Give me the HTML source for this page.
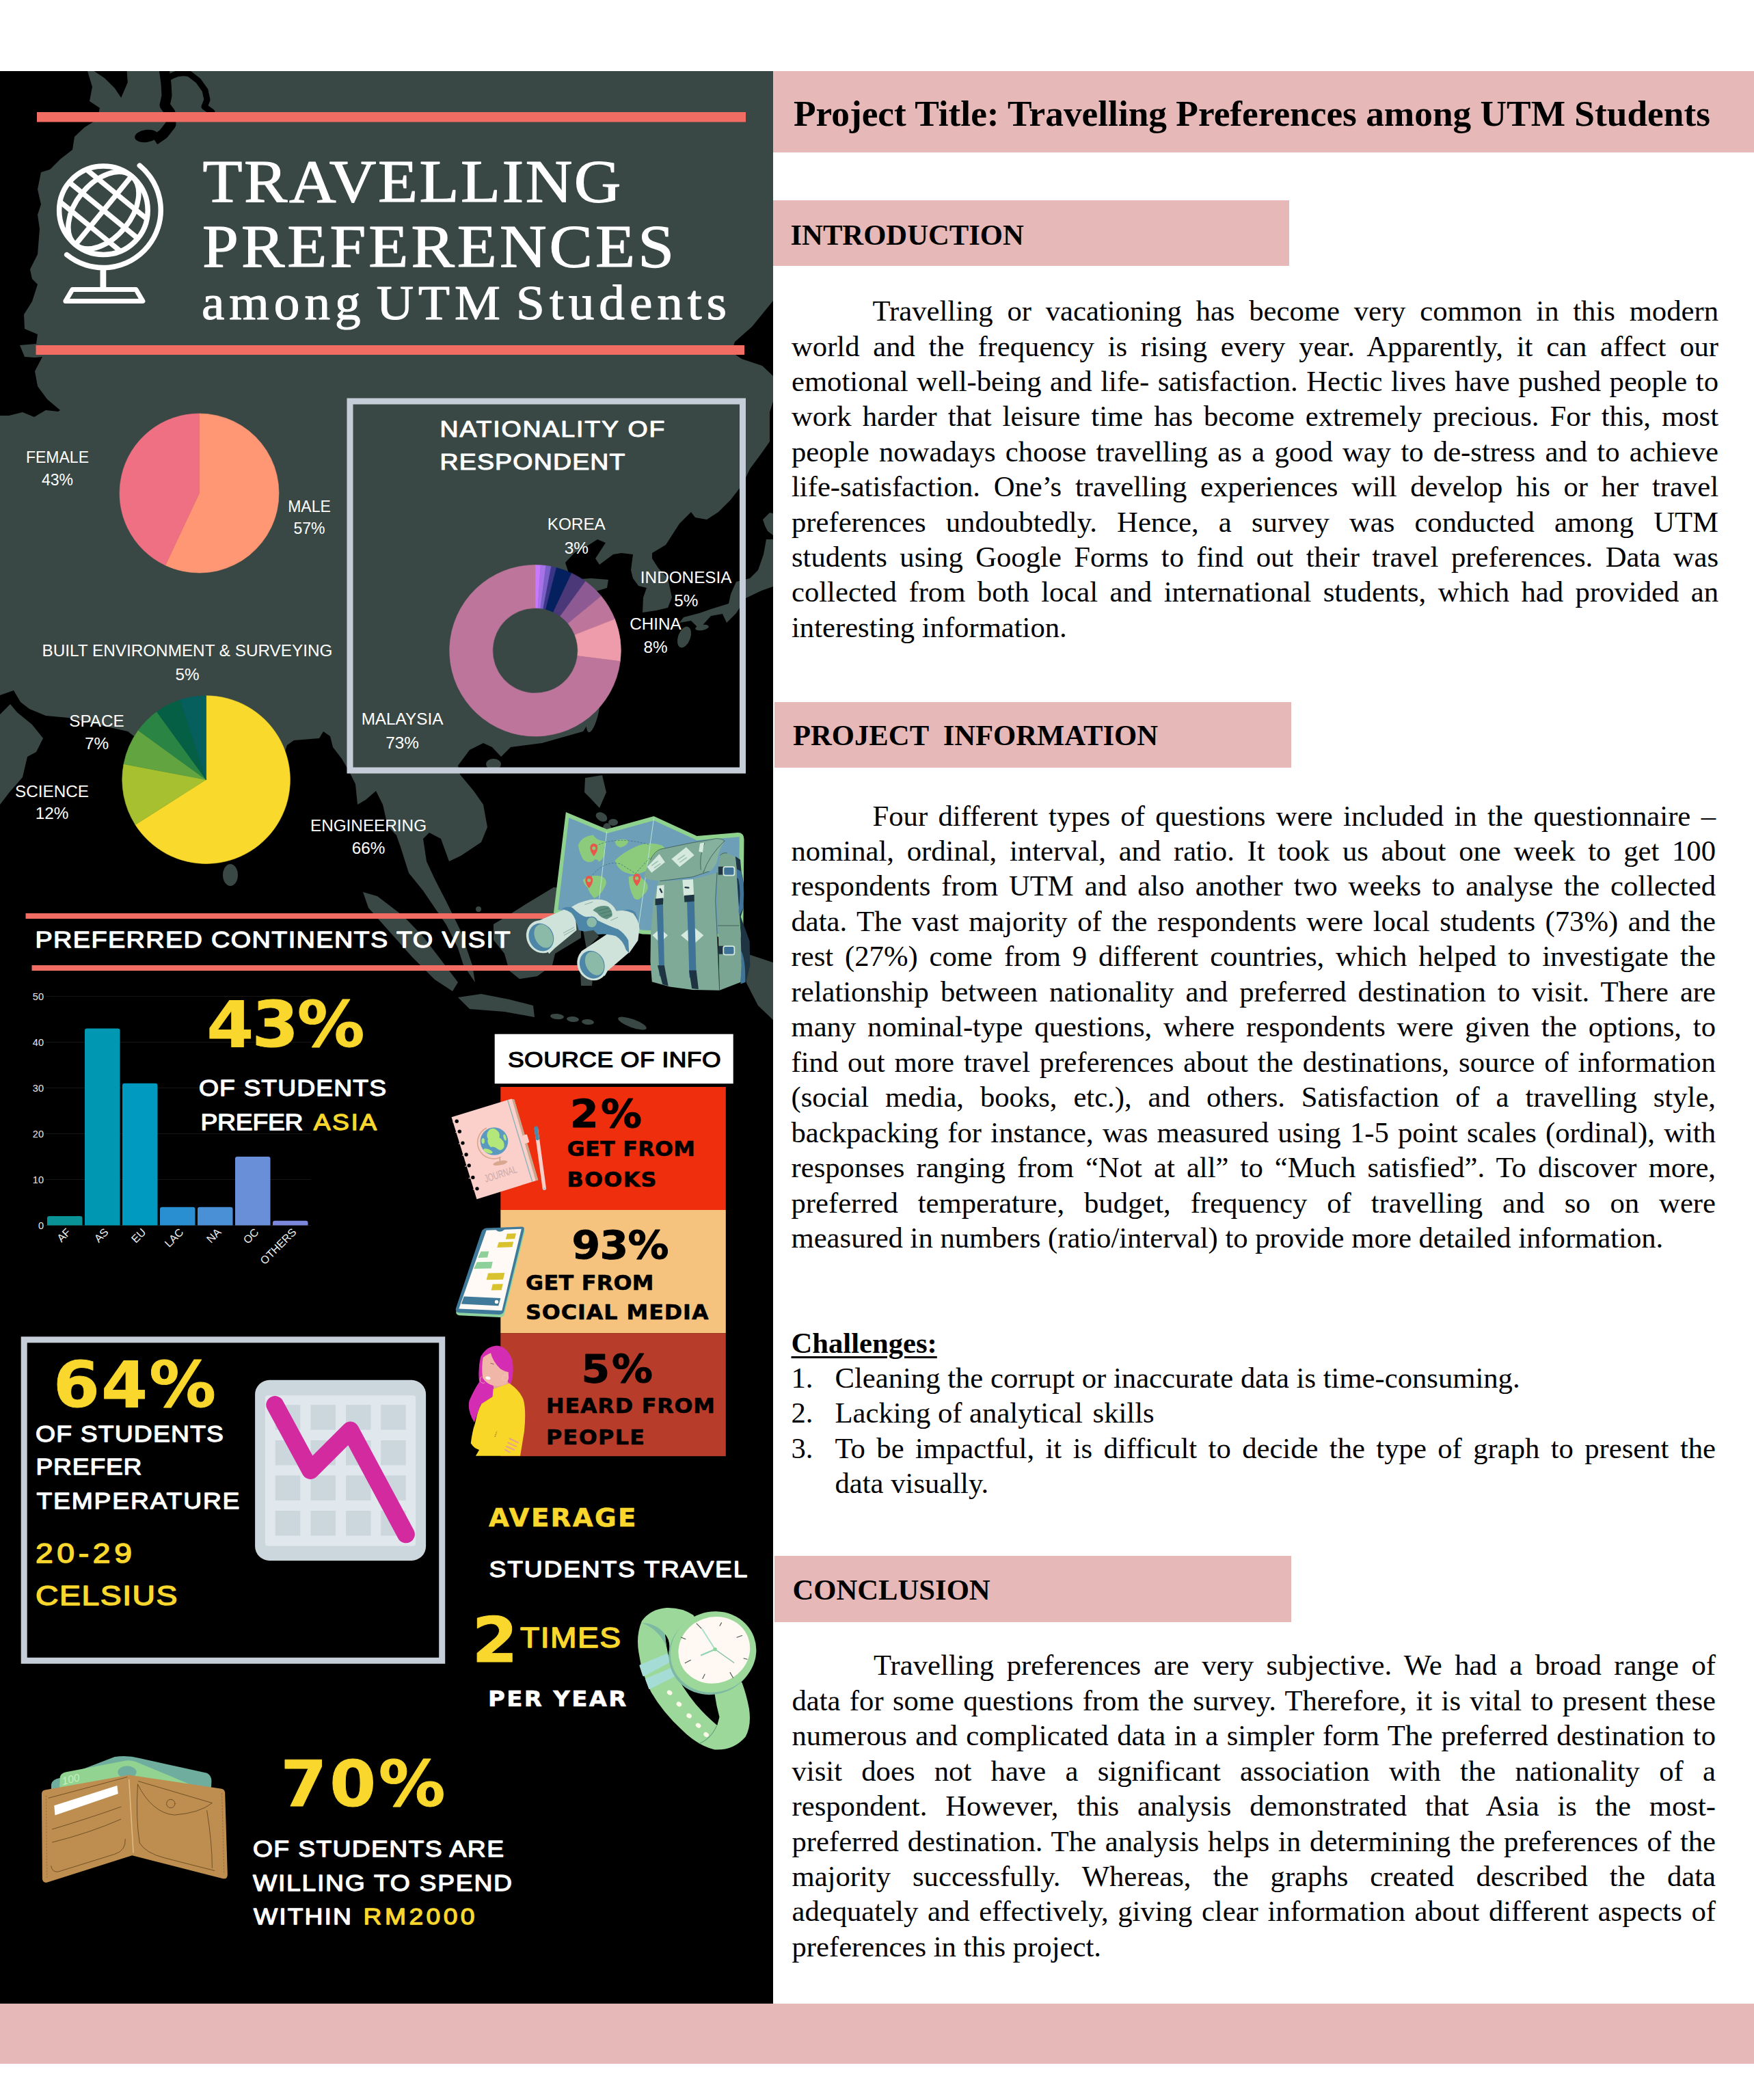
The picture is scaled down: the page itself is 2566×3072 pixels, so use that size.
<!DOCTYPE html>
<html lang="en"><head><meta charset="utf-8"><title>Travelling Preferences among UTM Students</title>
<style>
html,body{margin:0;padding:0;background:#fff}
body{width:2566px;height:3072px;position:relative;overflow:hidden;font-family:"Liberation Serif",serif;color:#000}
svg text{white-space:pre}
</style></head><body>
<svg width="1131" height="2827" viewBox="0 104 1131 2827" style="position:absolute;left:0;top:104px;display:block">
<rect x="0" y="104" width="1131" height="2827" fill="#000"/>
<polygon points="128,104 1131,104 1131,440 1100,478 1075,500 1070,515 1085,525 1115,535 1131,550 1131,587 1126,603 1126,646 1114,663 1097,686 1086,709 1069,731 1051,749 1034,760 1017,757 1011,749 994,766 983,783 974,797 954,809 954,817 963,831 977,846 980,860 983,874 977,889 960,893 940,896 941,874 946,860 934,857 926,846 923,834 926,811 909,809 897,811 877,826 871,817 886,794 874,789 857,800 840,809 827,823 835,848 865,846 890,848 888,860 862,868 852,882 870,930 885,960 890,1000 873,1040 853,1070 793,1087 747,1093 733,1107 720,1093 707,1087 687,1097 670,1120 673,1133 693,1157 707,1177 713,1210 704,1232 674,1252 657,1260 645,1227 628,1218 619,1227 624,1260 636,1286 653,1319 674,1362 691,1412 695,1437 678,1412 670,1387 653,1353 636,1328 619,1303 598,1277 586,1239 580,1222 567,1208 560,1177 550,1157 535,1170 523,1177 520,1147 510,1127 500,1110 487,1093 483,1077 473,1070 467,1080 430,1083 420,1090 400,1150 360,1230 320,1262 280,1200 240,1130 210,1090 200,1080 187,1070 100,1050 67,1047 43,1037 30,1027 20,1010 0,1017 0,608 13,608 33,603 50,610 67,600 85,602 88,600 69,584 55,565 51,543 62,522 51,523 36,522 29,505 53,503 55,489 36,481 35,460 47,441 55,416 47,408 44,394 55,372 58,335 55,314 60,299 55,277 60,252 73,248 88,233 106,219 109,200 124,186 142,175 146,158 131,148 135,127" fill="#3a4845" />
<polygon points="0,1045 15,1030 25,1042 47,1060 63,1080 53,1100 40,1107 33,1137 13,1160 0,1177" fill="#3a4845" />
<polygon points="1131,789 1121,789 1117,811 1109,834 1097,846 1077,851 1069,869 1066,883 1040,891 1023,897 1000,903 994,911 1011,908 1023,920 1040,901 1057,898 1063,911 1077,897 1091,875 1114,864 1131,858" fill="#3a4845" />
<polygon points="1116,760 1126,750 1131,751 1131,783 1123,777 1119,769" fill="#3a4845" />
<polygon points="856,1138 881,1134 887,1159 877,1182 864,1168 855,1159" fill="#3a4845" />
<polygon points="531,1305 552,1311 590,1340 619,1370 645,1404 670,1437 662,1450 636,1433 603,1400 569,1362 539,1328" fill="#3a4845" />
<polygon points="722,1352 745,1338 767,1324 810,1298 832,1300 850,1340 850,1372 812,1395 808,1412 786,1428 760,1432 745,1420 738,1395 722,1375" fill="#3a4845" />
<polygon points="670,1459 704,1454 745,1462 780,1471 782,1488 738,1480 687,1476" fill="#3a4845" />
<polygon points="1092,1395 1131,1408 1131,1492 1109,1471 1092,1438" fill="#3a4845" />
<polygon points="950,1330 975,1325 985,1345 970,1365 985,1395 970,1400 955,1375 945,1350" fill="#3a4845" />
<polygon points="853,1361 868,1357 876,1370 858,1388" fill="#3a4845" />
<polygon points="849,1419 868,1421 866,1442 850,1442" fill="#3a4845" />
<ellipse cx="337" cy="1280" rx="11" ry="16" fill="#3a4845" transform="rotate(0 337 1280)"/>
<ellipse cx="868" cy="1040" rx="8" ry="32" fill="#3a4845" transform="rotate(12 868 1040)"/>
<ellipse cx="722" cy="1118" rx="11" ry="8" fill="#3a4845" transform="rotate(0 722 1118)"/>
<ellipse cx="1001" cy="932" rx="9" ry="16" fill="#3a4845" transform="rotate(20 1001 932)"/>
<ellipse cx="1027" cy="918" rx="10" ry="4" fill="#3a4845" transform="rotate(-10 1027 918)"/>
<ellipse cx="880" cy="1195" rx="9" ry="6" fill="#3a4845" transform="rotate(30 880 1195)"/>
<ellipse cx="897" cy="1203" rx="7" ry="5" fill="#3a4845" transform="rotate(0 897 1203)"/>
<ellipse cx="888" cy="1212" rx="6" ry="8" fill="#3a4845" transform="rotate(0 888 1212)"/>
<ellipse cx="905" cy="1235" rx="14" ry="12" fill="#3a4845" transform="rotate(0 905 1235)"/>
<ellipse cx="815" cy="1487" rx="10" ry="4" fill="#3a4845" transform="rotate(5 815 1487)"/>
<ellipse cx="838" cy="1491" rx="9" ry="4" fill="#3a4845" transform="rotate(5 838 1491)"/>
<ellipse cx="860" cy="1495" rx="9" ry="4" fill="#3a4845" transform="rotate(5 860 1495)"/>
<ellipse cx="925" cy="1497" rx="22" ry="6" fill="#3a4845" transform="rotate(20 925 1497)"/>
<ellipse cx="700" cy="1330" rx="4" ry="4" fill="#3a4845" transform="rotate(0 700 1330)"/>
<path d="M240,100 L243,122 L244,140 L241,154 L249,165 L250,182 L239,196 L226,205" fill="none" stroke="#000" stroke-width="15" stroke-linejoin="round"/>
<ellipse cx="214" cy="199" rx="17" ry="9" fill="#000" transform="rotate(-8 214 199)"/>
<path d="M248,113 Q262,104 277,108 L290,118 L300,132 L303,146 L299,156 L310,164" fill="none" stroke="#000" stroke-width="9" stroke-linejoin="round" stroke-linecap="round"/>
<polygon points="137.7,104 185.6,104 186.8,120.4 177.2,143.1 167.6,128.7 153.3,114.4" fill="#000"/>
<rect x="54" y="164" width="1037" height="14.5" fill="#f16c62"/>
<rect x="52.5" y="505" width="1036.5" height="14" fill="#f16c62"/>
<g transform="translate(151.4,307.7)" fill="none" stroke="#fff" stroke-width="7.5" stroke-linecap="round" stroke-linejoin="round">
<circle r="64.8"/>
<g transform="rotate(39.3)" stroke-linecap="butt">
<line x1="0" y1="-64.8" x2="0" y2="64.8"/>
<ellipse rx="40.2" ry="64.8"/>
<line x1="-64.8" y1="0" x2="64.8" y2="0"/>
<line x1="-57.2" y1="-30.5" x2="57.2" y2="-30.5"/>
<line x1="-57.2" y1="30.5" x2="57.2" y2="30.5"/>
</g>
<path d="M52.9,-65.5 A84.2,84.2 0 1 1 -53.7,64.9"/>
<line x1="-0.5" y1="84" x2="-0.5" y2="113" stroke-width="8.8" stroke-linecap="butt"/>
<path d="M-45.5,115.8 L47.5,115.8 L57.5,132.8 L-55.5,132.8 Z" stroke-width="7"/>
</g>
<text transform="translate(296.5,295) scale(1.08,1)" font-family="Liberation Serif, serif" font-size="88" font-weight="400" fill="#fff" textLength="566.67" lengthAdjust="spacing" stroke="#fff" stroke-width="1.2" stroke-linejoin="round" >TRAVELLING</text>
<text transform="translate(296,390) scale(1.08,1)" font-family="Liberation Serif, serif" font-size="88" font-weight="400" fill="#fff" textLength="638.89" lengthAdjust="spacing" stroke="#fff" stroke-width="1.2" stroke-linejoin="round" >PREFERENCES</text>
<text transform="translate(295,466.8) scale(1.06,1)" font-family="Liberation Serif, serif" font-size="71" font-weight="400" fill="#fff" textLength="724.53" lengthAdjust="spacing" stroke="#fff" stroke-width="1.1" stroke-linejoin="round" word-spacing="-9">among UTM Students</text>
<path d="M291.5,721.5 L291.50,605.00 A116.5,116.5 0 1 1 241.90,826.91 Z" fill="#ff9674" stroke="#ff9674" stroke-width="0.6"/>
<path d="M291.5,721.5 L241.90,826.91 A116.5,116.5 0 0 1 291.50,605.00 Z" fill="#ee7082" stroke="#ee7082" stroke-width="0.6"/>
<path d="M301.6,1140.6 L301.60,1017.80 A122.8,122.8 0 1 1 197.92,1206.40 Z" fill="#f9d92b" stroke="#f9d92b" stroke-width="0.6"/>
<path d="M301.6,1140.6 L197.92,1206.40 A122.8,122.8 0 0 1 180.98,1117.59 Z" fill="#a6c02f" stroke="#a6c02f" stroke-width="0.6"/>
<path d="M301.6,1140.6 L180.98,1117.59 A122.8,122.8 0 0 1 202.25,1068.42 Z" fill="#62a43f" stroke="#62a43f" stroke-width="0.6"/>
<path d="M301.6,1140.6 L202.25,1068.42 A122.8,122.8 0 0 1 229.42,1041.25 Z" fill="#2a8444" stroke="#2a8444" stroke-width="0.6"/>
<path d="M301.6,1140.6 L229.42,1041.25 A122.8,122.8 0 0 1 263.65,1023.81 Z" fill="#055f45" stroke="#055f45" stroke-width="0.6"/>
<path d="M301.6,1140.6 L263.65,1023.81 A122.8,122.8 0 0 1 301.60,1017.80 Z" fill="#065e5d" stroke="#065e5d" stroke-width="0.6"/>
<text x="84" y="677" font-family="Liberation Sans, sans-serif" font-size="23" font-weight="400" fill="#fff" text-anchor="middle" >FEMALE</text><text x="84" y="709.5" font-family="Liberation Sans, sans-serif" font-size="23" font-weight="400" fill="#fff" text-anchor="middle" >43%</text>
<text x="452.5" y="749" font-family="Liberation Sans, sans-serif" font-size="23" font-weight="400" fill="#fff" text-anchor="middle" >MALE</text><text x="452.5" y="781" font-family="Liberation Sans, sans-serif" font-size="23" font-weight="400" fill="#fff" text-anchor="middle" >57%</text>
<text x="274" y="960" font-family="Liberation Sans, sans-serif" font-size="24.3" font-weight="400" fill="#fff" text-anchor="middle" >BUILT ENVIRONMENT &amp; SURVEYING</text><text x="274" y="994.5" font-family="Liberation Sans, sans-serif" font-size="24.3" font-weight="400" fill="#fff" text-anchor="middle" >5%</text>
<text x="141.5" y="1063.3" font-family="Liberation Sans, sans-serif" font-size="24.3" font-weight="400" fill="#fff" text-anchor="middle" >SPACE</text><text x="141.5" y="1096" font-family="Liberation Sans, sans-serif" font-size="24.3" font-weight="400" fill="#fff" text-anchor="middle" >7%</text>
<text x="76" y="1165.5" font-family="Liberation Sans, sans-serif" font-size="24.3" font-weight="400" fill="#fff" text-anchor="middle" >SCIENCE</text><text x="76" y="1198" font-family="Liberation Sans, sans-serif" font-size="24.3" font-weight="400" fill="#fff" text-anchor="middle" >12%</text>
<text x="539" y="1216" font-family="Liberation Sans, sans-serif" font-size="24.3" font-weight="400" fill="#fff" text-anchor="middle" >ENGINEERING</text><text x="539" y="1249" font-family="Liberation Sans, sans-serif" font-size="24.3" font-weight="400" fill="#fff" text-anchor="middle" >66%</text>
<rect x="512" y="587" width="574.5" height="540" fill="none" stroke="#c5cdd8" stroke-width="9"/>
<text transform="translate(643.5,639) scale(1.12,1)" font-family="Liberation Sans, sans-serif" font-size="33.5" font-weight="400" fill="#fff" textLength="293.75" lengthAdjust="spacing" stroke="#fff" stroke-width="1.1" stroke-linejoin="round" >NATIONALITY OF</text>
<text transform="translate(643.5,687.3) scale(1.12,1)" font-family="Liberation Sans, sans-serif" font-size="33.5" font-weight="400" fill="#fff" textLength="241.96" lengthAdjust="spacing" stroke="#fff" stroke-width="1.1" stroke-linejoin="round" >RESPONDENT</text>
<path d="M783.00,826.50 A125.3,125.3 0 0 1 790.87,826.75 L786.91,889.62 A62.3,62.3 0 0 0 783.00,889.50 Z" fill="#c879ff" stroke="#c879ff" stroke-width="0.6"/>
<path d="M790.87,826.75 A125.3,125.3 0 0 1 798.70,827.49 L790.81,889.99 A62.3,62.3 0 0 0 786.91,889.62 Z" fill="#a873e8" stroke="#a873e8" stroke-width="0.6"/>
<path d="M798.70,827.49 A125.3,125.3 0 0 1 806.48,828.72 L794.67,890.60 A62.3,62.3 0 0 0 790.81,889.99 Z" fill="#7b5fc8" stroke="#7b5fc8" stroke-width="0.6"/>
<path d="M806.48,828.72 A125.3,125.3 0 0 1 814.16,830.44 L798.49,891.46 A62.3,62.3 0 0 0 794.67,890.60 Z" fill="#3a3587" stroke="#3a3587" stroke-width="0.6"/>
<path d="M814.16,830.44 A125.3,125.3 0 0 1 836.35,838.43 L809.53,895.43 A62.3,62.3 0 0 0 798.49,891.46 Z" fill="#04205f" stroke="#04205f" stroke-width="0.6"/>
<path d="M836.35,838.43 A125.3,125.3 0 0 1 856.65,850.43 L819.62,901.40 A62.3,62.3 0 0 0 809.53,895.43 Z" fill="#4a3878" stroke="#4a3878" stroke-width="0.6"/>
<path d="M856.65,850.43 A125.3,125.3 0 0 1 879.55,871.93 L831.00,912.09 A62.3,62.3 0 0 0 819.62,901.40 Z" fill="#8d5a94" stroke="#8d5a94" stroke-width="0.6"/>
<path d="M879.55,871.93 A125.3,125.3 0 0 1 899.50,905.67 L840.93,928.87 A62.3,62.3 0 0 0 831.00,912.09 Z" fill="#be759b" stroke="#be759b" stroke-width="0.6"/>
<path d="M899.50,905.67 A125.3,125.3 0 0 1 907.31,967.50 L844.81,959.61 A62.3,62.3 0 0 0 840.93,928.87 Z" fill="#ee9cab" stroke="#ee9cab" stroke-width="0.6"/>
<path d="M907.31,967.50 A125.3,125.3 0 1 1 783.00,826.50 L783.00,889.50 A62.3,62.3 0 1 0 844.81,959.61 Z" fill="#be759b" stroke="#be759b" stroke-width="0.6"/>
<text x="843.3" y="775" font-family="Liberation Sans, sans-serif" font-size="24.3" font-weight="400" fill="#fff" text-anchor="middle" >KOREA</text><text x="843.3" y="810" font-family="Liberation Sans, sans-serif" font-size="24.3" font-weight="400" fill="#fff" text-anchor="middle" >3%</text>
<text x="1003.7" y="853" font-family="Liberation Sans, sans-serif" font-size="24.3" font-weight="400" fill="#fff" text-anchor="middle" >INDONESIA</text><text x="1003.7" y="887" font-family="Liberation Sans, sans-serif" font-size="24.3" font-weight="400" fill="#fff" text-anchor="middle" >5%</text>
<text x="959" y="920.5" font-family="Liberation Sans, sans-serif" font-size="24.3" font-weight="400" fill="#fff" text-anchor="middle" >CHINA</text><text x="959" y="955" font-family="Liberation Sans, sans-serif" font-size="24.3" font-weight="400" fill="#fff" text-anchor="middle" >8%</text>
<text x="588.5" y="1060" font-family="Liberation Sans, sans-serif" font-size="24.3" font-weight="400" fill="#fff" text-anchor="middle" >MALAYSIA</text><text x="588.5" y="1095" font-family="Liberation Sans, sans-serif" font-size="24.3" font-weight="400" fill="#fff" text-anchor="middle" >73%</text>
<rect x="37.5" y="1336" width="775" height="8" fill="#f16c62"/>
<rect x="46.5" y="1412" width="907" height="8" fill="#f16c62"/>
<text transform="translate(51.5,1386) scale(1.13,1)" font-family="Liberation Sans, sans-serif" font-size="33.5" font-weight="400" fill="#fff" textLength="615.04" lengthAdjust="spacing" stroke="#fff" stroke-width="1.25" stroke-linejoin="round" >PREFERRED CONTINENTS TO VISIT</text>
<g transform="translate(760,1170) scale(0.19956)">
<path d="M340,90 L640,215 L985,120 L1300,265 L1600,240 Q1648,240 1646,292 L1640,1010 L900,985 L250,830 Z" fill="#8fd28e"/>
<path d="M362,132 L640,247 L985,152 L1300,297 L1612,272 L1610,990 L900,955 L282,805 Z" fill="#6e9fb9"/>
<path d="M430,335 Q450,270 540,258 Q560,290 600,300 Q650,300 620,350 Q640,410 585,455 Q555,420 540,450 Q500,470 465,435 Q440,390 430,335 Z" fill="#8ccb7c"/>
<path d="M465,585 Q520,545 600,560 Q655,585 625,640 Q595,700 548,722 Q515,690 498,640 Q470,620 465,585 Z" fill="#8ccb7c"/>
<path d="M700,300 Q760,280 800,300 Q790,340 740,350 Q700,340 700,300 Z" fill="#8ccb7c"/>
<path d="M700,445 Q760,385 850,345 Q950,300 1045,335 Q1100,375 1060,440 Q1000,500 930,520 Q850,560 800,540 Q720,520 700,445 Z" fill="#8ccb7c"/>
<path d="M800,565 Q870,540 925,600 Q965,650 905,700 Q870,750 840,722 Q800,650 800,565 Z" fill="#8ccb7c"/>
<path d="M640,230 L585,725 M985,135 L868,960" stroke="#b9e3d6" stroke-width="5" fill="none"/>
<path d="M560,340 Q700,260 960,330 M520,570 Q620,440 740,470 L850,540 L960,420" stroke="#3f6f86" stroke-width="4" stroke-dasharray="14 10" fill="none"/>
<path d="M545,413 C507,370 511,323 545,321 C579,323 583,370 545,413 Z" fill="#e8584a"/>
<circle cx="545" cy="355" r="13" fill="#8ccb7c"/>
<path d="M510,648 C472,605 476,558 510,556 C544,558 548,605 510,648 Z" fill="#e8584a"/>
<circle cx="510" cy="590" r="13" fill="#8ccb7c"/>
<path d="M860,633 C822,590 826,543 860,541 C894,543 898,590 860,633 Z" fill="#e8584a"/>
<circle cx="860" cy="575" r="13" fill="#8ccb7c"/>
<g transform="translate(851.9,200.4) scale(0.5965)">
<path d="M1225,360 L1285,400 L1300,560 Q1348,720 1322,1000 L1290,1100 L1400,1400 L1406,1700 L1356,1905 L1290,1925 L1290,1300 Z" fill="#1e3442"/>
<path d="M1215,500 L1290,540 Q1346,700 1318,1000 L1276,1082 L1262,1040 Q1300,800 1262,640 L1215,590 Z" fill="#3f7397"/>
<path d="M1225,1490 L1300,1530 Q1352,1640 1346,1905 L1290,1925 L1300,1640 L1225,1570 Z" fill="#3f7397"/>
<path d="M1000,560 L1040,345 Q1060,310 1110,312 L1225,365 L1240,500 L1250,900 L1290,1300 L1300,1700 L1290,1905 L1030,2005 Z" fill="#7aa593"/>
<path d="M280,668 L700,640 L1000,560 L980,900 L1000,1300 L1030,2005 L700,2000 L420,1962 L200,1900 L180,1650 L185,1300 L220,900 Z" fill="#7faa98"/>
<path d="M1000,560 L980,900 L1000,1300 L1030,2005 M1012,1210 L1270,1210 M1040,345 Q1070,310 1120,318" stroke="#2c4a48" stroke-width="6" fill="none" stroke-linecap="round"/>
<path d="M100,600 L120,560 Q140,400 300,272 L700,190 L990,140 Q1060,140 1092,168 L1040,262 Q1010,340 1000,420 Q960,520 900,545 L700,612 L300,662 L150,642 Z" fill="#7faa98"/>
<path d="M845,198 Q780,350 800,520 L900,545 Q960,520 1000,420 Q1010,340 1040,262 L1092,168 Q1060,140 990,140 Z" fill="#86b19f"/>
<path d="M180,400 Q230,300 300,272 L700,190 L990,140 Q1060,140 1092,168 M845,198 Q780,350 800,520 M1090,170 Q900,350 830,560 M300,662 L700,612 L900,545" stroke="#2c4a48" stroke-width="6" fill="none" stroke-linecap="round"/>
<polygon points="140,490 290,330 360,430 195,560" fill="#d6e9df"/>
<polygon points="440,390 620,245 720,345 540,490" fill="#d6e9df"/>
<path d="M200,470 L270,420 M230,500 L300,450 M520,400 L600,345 M545,430 L625,375" stroke="#9ec4b2" stroke-width="14" stroke-linecap="round"/>
<polygon points="790,200 842,190 822,310 775,300" fill="#d6e9df"/>
<polygon points="205,1330 300,1250 395,1330 300,1420" fill="#d6e9df"/>
<polygon points="555,1330 700,1215 835,1330 700,1450" fill="#d6e9df"/>
<polygon points="255,930 335,925 355,1830 290,1830" fill="#3f7397"/>
<polygon points="268,1700 352,1700 400,1952 330,1932" fill="#1e3442"/>
<polygon points="630,900 720,895 745,1850 660,1850" fill="#3f7397"/>
<polygon points="655,1760 745,1760 772,1992 690,1982" fill="#1e3442"/>
<polygon points="265,720 350,710 345,880 250,890" fill="#d6e9df"/>
<polygon points="240,880 340,870 335,950 240,960" fill="#1e3442"/>
<polygon points="575,650 705,640 715,840 590,850" fill="#d6e9df"/>
<polygon points="595,840 720,830 720,912 600,922" fill="#1e3442"/>
<path d="M300,760 L320,800 M610,740 L650,745" stroke="#1e3442" stroke-width="20" stroke-linecap="round"/>
<rect x="1015" y="485" width="80" height="100" fill="#1e3442"/>
<rect x="1078" y="488" width="135" height="105" rx="22" fill="#3f7397" stroke="#d6e9df" stroke-width="15"/>
<rect x="1015" y="1460" width="80" height="100" fill="#1e3442"/>
<rect x="1078" y="1463" width="135" height="105" rx="22" fill="#3f7397" stroke="#d6e9df" stroke-width="15"/>
</g>
<g transform="translate(0,651.4) scale(0.5429)">
<path d="M150,480 L600,285 Q700,300 760,420 L770,560 L480,800 L400,880 Z" fill="#cfe3db"/>
<path d="M830,850 L1240,575 Q1350,590 1430,720 L1480,860 L1190,1110 L1150,1180 Z" fill="#cfe3db"/>
<path d="M1390,300 Q1480,255 1565,320 L1600,420 L1400,330 Z" fill="#4d86a7"/>
<path d="M1300,305 Q1420,275 1535,335 Q1608,420 1620,540 L1600,700 L1480,870 L1440,830 Q1420,650 1320,545 L1260,420 Z" fill="#cfe3db"/>
<path d="M570,270 Q650,230 720,260 Q820,360 900,380 Q1000,370 1060,430 Q1200,500 1320,540 Q1420,600 1470,700 L1480,870 L1440,830 Q1400,700 1300,640 Q1150,600 1060,620 L1000,560 L880,580 L800,560 Q760,400 700,320 Q640,290 570,270 Z" fill="#4d86a7"/>
<path d="M700,250 Q800,180 950,150 Q1100,130 1180,170 Q1280,230 1300,290 L1340,340 L1320,545 Q1200,500 1060,430 Q1000,370 900,380 Q820,360 720,260 Z" fill="#cfe3db"/>
<path d="M990,290 Q1080,210 1200,240 Q1262,300 1250,372 L1180,412 Q1100,400 1050,330 Z" fill="#5e8f7f"/>
<path d="M1060,300 L1200,260 M1090,340 L1235,300 M1130,378 L1250,345" stroke="#4a7a6b" stroke-width="10" fill="none"/>
<circle cx="975" cy="455" r="74" fill="#8cbaa8" stroke="#4d86a7" stroke-width="14"/>
<path d="M880,215 L990,180 M1230,430 L1330,385 M590,600 L740,520 M600,630 L750,550" stroke="#6f9a8c" stroke-width="7" fill="none"/>
<ellipse cx="298" cy="648" rx="203" ry="226" fill="#cfe3db" transform="rotate(-25 298 648)"/>
<ellipse cx="294" cy="656" rx="165" ry="192" fill="#4d86a7" transform="rotate(-25 294 656)"/>
<ellipse cx="326" cy="640" rx="118" ry="166" fill="#8cbaa8" transform="rotate(-25 326 640)"/>
<ellipse cx="985" cy="1018" rx="203" ry="226" fill="#cfe3db" transform="rotate(-25 985 1018)"/>
<ellipse cx="981" cy="1026" rx="165" ry="192" fill="#4d86a7" transform="rotate(-25 981 1026)"/>
<ellipse cx="1013" cy="1010" rx="118" ry="166" fill="#8cbaa8" transform="rotate(-25 1013 1010)"/>
</g>
</g>
<line x1="66" x2="455" y1="1792.5" y2="1792.5" stroke="#161616" stroke-width="1"/>
<text x="64" y="1797.5" text-anchor="end" font-family="Liberation Sans, sans-serif" font-size="14.5" fill="#e8e8e8">0</text>
<line x1="66" x2="455" y1="1725.5" y2="1725.5" stroke="#161616" stroke-width="1"/>
<text x="64" y="1730.5" text-anchor="end" font-family="Liberation Sans, sans-serif" font-size="14.5" fill="#e8e8e8">10</text>
<line x1="66" x2="455" y1="1658.5" y2="1658.5" stroke="#161616" stroke-width="1"/>
<text x="64" y="1663.5" text-anchor="end" font-family="Liberation Sans, sans-serif" font-size="14.5" fill="#e8e8e8">20</text>
<line x1="66" x2="455" y1="1591.5" y2="1591.5" stroke="#161616" stroke-width="1"/>
<text x="64" y="1596.5" text-anchor="end" font-family="Liberation Sans, sans-serif" font-size="14.5" fill="#e8e8e8">30</text>
<line x1="66" x2="455" y1="1524.5" y2="1524.5" stroke="#161616" stroke-width="1"/>
<text x="64" y="1529.5" text-anchor="end" font-family="Liberation Sans, sans-serif" font-size="14.5" fill="#e8e8e8">40</text>
<line x1="66" x2="455" y1="1457.5" y2="1457.5" stroke="#161616" stroke-width="1"/>
<text x="64" y="1462.5" text-anchor="end" font-family="Liberation Sans, sans-serif" font-size="14.5" fill="#e8e8e8">50</text>
<path d="M69,1792.5 V1782.1 Q69,1779.1 72,1779.1 H117.5 Q120.5,1779.1 120.5,1782.1 V1792.5 Z" fill="#0a9396"/>
<text transform="translate(104.5,1803.5) rotate(-45)" text-anchor="end" font-family="Liberation Sans, sans-serif" font-size="16" fill="#f2f2f2">AF</text>
<path d="M124,1792.5 V1507.4 Q124,1504.4 127,1504.4 H172.5 Q175.5,1504.4 175.5,1507.4 V1792.5 Z" fill="#0097b2"/>
<text transform="translate(159.5,1803.5) rotate(-45)" text-anchor="end" font-family="Liberation Sans, sans-serif" font-size="16" fill="#f2f2f2">AS</text>
<path d="M179,1792.5 V1587.8 Q179,1584.8 182,1584.8 H227.5 Q230.5,1584.8 230.5,1587.8 V1792.5 Z" fill="#0099c0"/>
<text transform="translate(214.5,1803.5) rotate(-45)" text-anchor="end" font-family="Liberation Sans, sans-serif" font-size="16" fill="#f2f2f2">EU</text>
<path d="M234,1792.5 V1768.7 Q234,1765.7 237,1765.7 H282.5 Q285.5,1765.7 285.5,1768.7 V1792.5 Z" fill="#2a8fd0"/>
<text transform="translate(269.5,1803.5) rotate(-45)" text-anchor="end" font-family="Liberation Sans, sans-serif" font-size="16" fill="#f2f2f2">LAC</text>
<path d="M289,1792.5 V1768.7 Q289,1765.7 292,1765.7 H337.5 Q340.5,1765.7 340.5,1768.7 V1792.5 Z" fill="#4a90d6"/>
<text transform="translate(324.5,1803.5) rotate(-45)" text-anchor="end" font-family="Liberation Sans, sans-serif" font-size="16" fill="#f2f2f2">NA</text>
<path d="M344,1792.5 V1695.0 Q344,1692.0 347,1692.0 H392.5 Q395.5,1692.0 395.5,1695.0 V1792.5 Z" fill="#6a8fd9"/>
<text transform="translate(379.5,1803.5) rotate(-45)" text-anchor="end" font-family="Liberation Sans, sans-serif" font-size="16" fill="#f2f2f2">OC</text>
<path d="M399,1792.5 V1788.8 Q399,1785.8 402,1785.8 H447.5 Q450.5,1785.8 450.5,1788.8 V1792.5 Z" fill="#7b86dd"/>
<text transform="translate(434.5,1803.5) rotate(-45)" text-anchor="end" font-family="Liberation Sans, sans-serif" font-size="16" fill="#f2f2f2">OTHERS</text>
<text transform="translate(302.5,1531.2) scale(1.06,1)" font-family="DejaVu Sans, Liberation Sans, sans-serif" font-size="93" font-weight="700" fill="#f9d72d" textLength="217.92" lengthAdjust="spacing" stroke="#f9d72d" stroke-width="0.9" stroke-linejoin="round" >43%</text>
<text transform="translate(291,1603.3) scale(1.13,1)" font-family="Liberation Sans, sans-serif" font-size="33" font-weight="400" fill="#fff" textLength="242.48" lengthAdjust="spacing" stroke="#fff" stroke-width="1.25" stroke-linejoin="round" >OF STUDENTS</text>
<text transform="translate(293.5,1653.1) scale(1.13,1)" font-family="Liberation Sans, sans-serif" font-size="33" font-weight="400" fill="#fff" textLength="132.74" lengthAdjust="spacing" stroke="#fff" stroke-width="1.25" stroke-linejoin="round" >PREFER</text><text transform="translate(458.7,1653.1) scale(1.13,1)" font-family="Liberation Sans, sans-serif" font-size="33" font-weight="400" fill="#f9d72d" textLength="81.86" lengthAdjust="spacing" stroke="#f9d72d" stroke-width="1.25" stroke-linejoin="round" >ASIA</text>
<rect x="723.7" y="1512.7" width="349" height="72.5" fill="#fff"/>
<rect x="732.3" y="1590" width="329.5" height="180" fill="#ee2e0c"/>
<rect x="732.3" y="1770" width="329.5" height="180.2" fill="#f5c37e"/>
<rect x="732.3" y="1950.2" width="329.5" height="180" fill="#b73d2a"/>
<text transform="translate(743,1561) scale(1.1,1)" font-family="Liberation Sans, sans-serif" font-size="32.2" font-weight="400" fill="#000" textLength="283.18" lengthAdjust="spacing" stroke="#000" stroke-width="1.25" stroke-linejoin="round" >SOURCE OF INFO</text>
<text transform="translate(834,1649.8) scale(1.06,1)" font-family="DejaVu Sans, Liberation Sans, sans-serif" font-size="56.5" font-weight="700" fill="#000" textLength="99.06" lengthAdjust="spacing" stroke="#000" stroke-width="0.9" stroke-linejoin="round" >2%</text>
<text transform="translate(829.5,1691.3) scale(1.06,1)" font-family="DejaVu Sans, Liberation Sans, sans-serif" font-size="30" font-weight="700" fill="#000" textLength="176.89" lengthAdjust="spacing" stroke="#000" stroke-width="0.6" stroke-linejoin="round" >GET FROM</text>
<text transform="translate(829.5,1736) scale(1.06,1)" font-family="DejaVu Sans, Liberation Sans, sans-serif" font-size="30" font-weight="700" fill="#000" textLength="123.58" lengthAdjust="spacing" stroke="#000" stroke-width="0.6" stroke-linejoin="round" >BOOKS</text>
<text transform="translate(836.5,1841.8) scale(1.06,1)" font-family="DejaVu Sans, Liberation Sans, sans-serif" font-size="56.5" font-weight="700" fill="#000" textLength="133.96" lengthAdjust="spacing" stroke="#000" stroke-width="0.9" stroke-linejoin="round" >93%</text>
<text transform="translate(769,1886.6) scale(1.06,1)" font-family="DejaVu Sans, Liberation Sans, sans-serif" font-size="30" font-weight="700" fill="#000" textLength="176.89" lengthAdjust="spacing" stroke="#000" stroke-width="0.6" stroke-linejoin="round" >GET FROM</text>
<text transform="translate(769,1929.7) scale(1.06,1)" font-family="DejaVu Sans, Liberation Sans, sans-serif" font-size="30" font-weight="700" fill="#000" textLength="252.36" lengthAdjust="spacing" stroke="#000" stroke-width="0.6" stroke-linejoin="round" >SOCIAL MEDIA</text>
<text transform="translate(850.5,2022.5) scale(1.06,1)" font-family="DejaVu Sans, Liberation Sans, sans-serif" font-size="56.5" font-weight="700" fill="#000" textLength="98.58" lengthAdjust="spacing" stroke="#000" stroke-width="0.9" stroke-linejoin="round" >5%</text>
<text transform="translate(799,2067.2) scale(1.06,1)" font-family="DejaVu Sans, Liberation Sans, sans-serif" font-size="30" font-weight="700" fill="#000" textLength="233.02" lengthAdjust="spacing" stroke="#000" stroke-width="0.6" stroke-linejoin="round" >HEARD FROM</text>
<text transform="translate(799,2113.2) scale(1.06,1)" font-family="DejaVu Sans, Liberation Sans, sans-serif" font-size="30" font-weight="700" fill="#000" textLength="135.85" lengthAdjust="spacing" stroke="#000" stroke-width="0.6" stroke-linejoin="round" >PEOPLE</text>
<g transform="translate(640,1590) scale(0.10263)">
<polygon points="200,430 1050,170 1092,180 1432,1328 560,1600" fill="#fbd0ca"/>
<polygon points="1062,176 1096,180 1436,1324 1400,1338" fill="#c9a68c"/>
<path d="M1000,185 L1352,1352" stroke="#8fb5ba" stroke-width="14" fill="none"/>
<rect x="1222" y="682" width="72" height="120" rx="14" fill="#fbd0ca" transform="rotate(-17 1258 742)"/>
<path d="M215,502 L275,490" stroke="#fbd0ca" stroke-width="10"/>
<circle cx="275" cy="490" r="26" fill="#000"/>
<path d="M255,647 L315,635" stroke="#fbd0ca" stroke-width="10"/>
<circle cx="315" cy="635" r="26" fill="#000"/>
<path d="M300,812 L360,800" stroke="#fbd0ca" stroke-width="10"/>
<circle cx="360" cy="800" r="26" fill="#000"/>
<path d="M350,977 L410,965" stroke="#fbd0ca" stroke-width="10"/>
<circle cx="410" cy="965" r="26" fill="#000"/>
<path d="M390,1132 L450,1120" stroke="#fbd0ca" stroke-width="10"/>
<circle cx="450" cy="1120" r="26" fill="#000"/>
<path d="M445,1302 L505,1290" stroke="#fbd0ca" stroke-width="10"/>
<circle cx="505" cy="1290" r="26" fill="#000"/>
<path d="M505,1462 L565,1450" stroke="#fbd0ca" stroke-width="10"/>
<circle cx="565" cy="1450" r="26" fill="#000"/>
<path d="M700,585 A225,225 0 0 0 905,1000" stroke="#d9a78d" stroke-width="16" fill="none"/>
<path d="M885,1000 L895,1075" stroke="#d9a78d" stroke-width="18"/>
<ellipse cx="895" cy="1085" rx="105" ry="30" fill="#d9a78d" transform="rotate(-12 895 1085)"/>
<circle cx="808" cy="775" r="198" fill="#5a9ac0"/>
<path d="M740,610 Q800,570 850,620 Q900,660 880,720 Q960,760 950,860 Q900,930 850,880 Q800,840 760,860 Q700,800 720,740 Q680,680 740,610 Z" fill="#b4e779"/>
<ellipse cx="720" cy="915" rx="70" ry="28" fill="#b4e779" transform="rotate(20 720 915)"/>
<ellipse cx="650" cy="770" rx="22" ry="40" fill="#b4e779"/>
<ellipse cx="960" cy="720" rx="18" ry="45" fill="#b4e779" transform="rotate(-15 960 720)"/>
<text transform="translate(915,1290) rotate(-17.5)" text-anchor="middle" font-family="Liberation Sans, sans-serif" font-size="150" fill="#c9a9ab" textLength="480" lengthAdjust="spacingAndGlyphs">JOURNAL</text>
<path d="M1408,600 L1523,1445" stroke="#f9cfca" stroke-width="52" stroke-linecap="round"/>
<path d="M1404,585 L1425,735" stroke="#4b8aa9" stroke-width="52" stroke-linecap="round"/>
<circle cx="1524" cy="1452" r="18" fill="#b9c4cc"/>
</g>
<g transform="translate(650,1780) scale(0.10263)">
<path d="M600,160 L1100,142 Q1148,140 1136,188 L852,1340 Q838,1396 780,1393 L210,1366 Q150,1360 166,1300 L530,215 Q550,165 600,160 Z" fill="#8fd4a0" transform="translate(6,40)"/>
<path d="M600,160 L1100,142 Q1148,140 1136,188 L852,1340 Q838,1396 780,1393 L210,1366 Q150,1360 166,1300 L530,215 Q550,165 600,160 Z" fill="#3f7a9a"/>
<path d="M600,192 L735,187 Q795,240 858,183 L1099,174 L821,1338 L207,1311 Z" fill="#fffaf5"/>
<polygon points="895,240 1022,236 1005,315 875,318" fill="#d8c22e"/>
<polygon points="775,362 985,356 968,432 752,438" fill="#d8c22e"/>
<polygon points="520,495 635,492 615,580 480,585" fill="#8ed09a"/>
<polygon points="465,645 690,640 668,735 420,740" fill="#8ed09a"/>
<polygon points="625,805 860,800 838,895 600,900" fill="#d8c22e"/>
<polygon points="690,960 835,957 815,1045 668,1048" fill="#d8c22e"/>
<polygon points="280,1135 802,1160 772,1268 242,1242" fill="#3f7a9a"/>
<circle cx="745" cy="1212" r="26" fill="#fffaf5"/>
</g>
<g transform="translate(660,1950) scale(0.10263)">
<path d="M650,180 Q800,190 870,380 Q905,560 852,722 L600,900 L420,1020 L330,1275 Q225,1100 260,960 Q320,820 400,700 Q380,500 420,340 Q500,190 650,180 Z" fill="#d42db4"/>
<polygon points="600,735 805,690 835,735 610,815" fill="#e3a595"/>
<path d="M455,350 Q520,300 565,285 Q590,400 700,510 Q780,560 815,555 Q830,640 790,722 Q700,772 600,750 Q500,720 450,640 Q430,480 455,350 Z" fill="#f0b7a8"/>
<path d="M600,800 L830,715 Q980,820 1030,950 Q1072,1100 1042,1400 L985,1752 L350,1752 L400,1665 Q330,1650 280,1572 Q300,1400 340,1290 Q380,1100 430,1010 L590,905 Z" fill="#f8d728"/>
<ellipse cx="525" cy="642" rx="36" ry="22" fill="#fff" transform="rotate(12 525 642)"/>
<path d="M560,430 L610,445" stroke="#8a3a60" stroke-width="8" fill="none"/>
<circle cx="775" cy="640" r="40" fill="none" stroke="#f7c9c0" stroke-width="7"/>
<path d="M440,620 A45,45 0 0 0 480,710" fill="none" stroke="#f7c9c0" stroke-width="7"/>
<path d="M835,1505 L955,1562" stroke="#e8a090" stroke-width="20" stroke-linecap="round"/>
<path d="M812,1562 L928,1618" stroke="#e8a090" stroke-width="20" stroke-linecap="round"/>
<path d="M790,1618 L898,1664" stroke="#e8a090" stroke-width="20" stroke-linecap="round"/>
<path d="M770,1664 L835,1700" stroke="#e8a090" stroke-width="20" stroke-linecap="round"/>
<path d="M625,1480 L650,1400" stroke="#9a7a20" stroke-width="14" stroke-dasharray="14 12"/>
</g>
<rect x="35.2" y="1959.8" width="611.5" height="469.5" fill="#000" stroke="#c5cdd8" stroke-width="9"/>
<text transform="translate(78,2058.4) scale(1.06,1)" font-family="DejaVu Sans, Liberation Sans, sans-serif" font-size="92" font-weight="700" fill="#f9d72d" textLength="224.53" lengthAdjust="spacing" stroke="#f9d72d" stroke-width="0.9" stroke-linejoin="round" >64%</text>
<text transform="translate(52,2109.3) scale(1.13,1)" font-family="Liberation Sans, sans-serif" font-size="33" font-weight="400" fill="#fff" textLength="243.36" lengthAdjust="spacing" stroke="#fff" stroke-width="1.25" stroke-linejoin="round" >OF STUDENTS</text>
<text transform="translate(52.5,2157.3) scale(1.13,1)" font-family="Liberation Sans, sans-serif" font-size="33" font-weight="400" fill="#fff" textLength="137.17" lengthAdjust="spacing" stroke="#fff" stroke-width="1.25" stroke-linejoin="round" >PREFER</text>
<text transform="translate(53.5,2207.2) scale(1.13,1)" font-family="Liberation Sans, sans-serif" font-size="33" font-weight="400" fill="#fff" textLength="262.83" lengthAdjust="spacing" stroke="#fff" stroke-width="1.25" stroke-linejoin="round" >TEMPERATURE</text>
<text transform="translate(52,2285.8) scale(1.13,1)" font-family="Liberation Sans, sans-serif" font-size="41" font-weight="400" fill="#f9d72d" textLength="124.78" lengthAdjust="spacing" stroke="#f9d72d" stroke-width="1.5" stroke-linejoin="round" >20-29</text>
<text transform="translate(52,2347.6) scale(1.13,1)" font-family="Liberation Sans, sans-serif" font-size="41" font-weight="400" fill="#f9d72d" textLength="183.63" lengthAdjust="spacing" stroke="#f9d72d" stroke-width="1.5" stroke-linejoin="round" >CELSIUS</text>
<rect x="373.1" y="2018.8" width="250" height="264.1" rx="21" fill="#ccd6dd"/>
<rect x="387.9" y="2041.2" width="220.3" height="220.3" rx="4" fill="#e1e8ed"/>
<rect x="402.8" y="2055.1" width="36.5" height="36.5" fill="#ccd6dd"/>
<rect x="402.8" y="2107" width="36.5" height="36.5" fill="#ccd6dd"/>
<rect x="402.8" y="2158.4" width="36.5" height="36.5" fill="#ccd6dd"/>
<rect x="402.8" y="2210" width="36.5" height="36.5" fill="#ccd6dd"/>
<rect x="454.5" y="2055.1" width="36.5" height="36.5" fill="#ccd6dd"/>
<rect x="454.5" y="2107" width="36.5" height="36.5" fill="#ccd6dd"/>
<rect x="454.5" y="2158.4" width="36.5" height="36.5" fill="#ccd6dd"/>
<rect x="454.5" y="2210" width="36.5" height="36.5" fill="#ccd6dd"/>
<rect x="506.1" y="2055.1" width="36.5" height="36.5" fill="#ccd6dd"/>
<rect x="506.1" y="2107" width="36.5" height="36.5" fill="#ccd6dd"/>
<rect x="506.1" y="2158.4" width="36.5" height="36.5" fill="#ccd6dd"/>
<rect x="506.1" y="2210" width="36.5" height="36.5" fill="#ccd6dd"/>
<rect x="557.2" y="2055.1" width="36.5" height="36.5" fill="#ccd6dd"/>
<rect x="557.2" y="2107" width="36.5" height="36.5" fill="#ccd6dd"/>
<rect x="557.2" y="2158.4" width="36.5" height="36.5" fill="#ccd6dd"/>
<rect x="557.2" y="2210" width="36.5" height="36.5" fill="#ccd6dd"/>
<polyline points="402.3,2055.1 454.2,2150.9 512.5,2092.6 593.9,2244.3" fill="none" stroke="#d32aa0" stroke-width="26" stroke-linecap="round" stroke-linejoin="round"/>
<text transform="translate(715,2233.4) scale(1.06,1)" font-family="DejaVu Sans, Liberation Sans, sans-serif" font-size="36.5" font-weight="700" fill="#f9d72d" textLength="203.30" lengthAdjust="spacing" stroke="#f9d72d" stroke-width="0.6" stroke-linejoin="round" >AVERAGE</text>
<text transform="translate(715.5,2306.8) scale(1.13,1)" font-family="Liberation Sans, sans-serif" font-size="33" font-weight="400" fill="#fff" textLength="334.51" lengthAdjust="spacing" stroke="#fff" stroke-width="1.25" stroke-linejoin="round" >STUDENTS TRAVEL</text>
<text transform="translate(690.5,2431) scale(1.06,1)" font-family="DejaVu Sans, Liberation Sans, sans-serif" font-size="91" font-weight="700" fill="#f9d72d" stroke="#f9d72d" stroke-width="0.9" stroke-linejoin="round" >2</text>
<text transform="translate(761,2410) scale(1.1,1)" font-family="Liberation Sans, sans-serif" font-size="42" font-weight="400" fill="#f9d72d" textLength="133.64" lengthAdjust="spacing" stroke="#f9d72d" stroke-width="1.5" stroke-linejoin="round" >TIMES</text>
<text transform="translate(714,2495.5) scale(1.06,1)" font-family="DejaVu Sans, Liberation Sans, sans-serif" font-size="32" font-weight="700" fill="#fff" textLength="191.04" lengthAdjust="spacing" stroke="#fff" stroke-width="0.6" stroke-linejoin="round" >PER YEAR</text>
<g transform="translate(910,2330) scale(0.12542)">
<path d="M830,260 Q700,170 520,175 Q330,190 230,330 Q160,500 195,700 Q230,950 340,1160 Q480,1400 700,1600 Q880,1780 1080,1830 Q1300,1842 1440,1680 Q1512,1550 1482,1350 Q1450,1180 1400,1050 Z" fill="#9cd89a"/>
<path d="M500,480 Q572,560 546,700 Q580,880 720,1050 Q880,1140 1080,1176 Q1100,1320 1136,1450 L1110,1546 Q980,1440 860,1300 Q700,1100 600,900 Q520,720 500,480 Z" fill="#000"/>
<path d="M230,350 Q400,355 500,480 L520,640 Q440,430 230,350 Z" fill="#7db9a2"/>
<path d="M900,1760 Q1040,1700 1105,1550" stroke="#5e9a7c" stroke-width="8" fill="none"/>
<polygon points="215,850 522,722 548,802 252,962" fill="#a5ddd6" stroke="#a5ddd6" stroke-width="24" stroke-linejoin="round"/>
<polygon points="285,1010 592,880 618,962 322,1112" fill="#a5ddd6" stroke="#a5ddd6" stroke-width="24" stroke-linejoin="round"/>
<ellipse cx="555" cy="1165" rx="32" ry="26" fill="#fbf9e8" transform="rotate(35 555 1165)"/>
<ellipse cx="665" cy="1300" rx="32" ry="26" fill="#fbf9e8" transform="rotate(35 665 1300)"/>
<ellipse cx="782" cy="1435" rx="32" ry="26" fill="#fbf9e8" transform="rotate(35 782 1435)"/>
<ellipse cx="890" cy="1548" rx="32" ry="26" fill="#fbf9e8" transform="rotate(35 890 1548)"/>
<ellipse cx="982" cy="1655" rx="32" ry="26" fill="#fbf9e8" transform="rotate(35 982 1655)"/>
<ellipse cx="1045" cy="715" rx="505" ry="470" fill="#7db9a2" transform="rotate(-20 1045 715)"/>
<ellipse cx="1065" cy="690" rx="505" ry="468" fill="#9cd89a" transform="rotate(-20 1065 690)"/>
<ellipse cx="1075" cy="668" rx="422" ry="385" fill="#fff8f3" transform="rotate(-20 1075 668)"/>
<path d="M870,360 L925,415" stroke="#46564c" stroke-width="9" stroke-linecap="round"/>
<path d="M1160,350 L1140,385" stroke="#46564c" stroke-width="9" stroke-linecap="round"/>
<path d="M1340,520 L1400,498" stroke="#46564c" stroke-width="9" stroke-linecap="round"/>
<path d="M1420,765 L1460,775" stroke="#46564c" stroke-width="9" stroke-linecap="round"/>
<path d="M1260,930 L1295,990" stroke="#46564c" stroke-width="9" stroke-linecap="round"/>
<path d="M965,950 L940,1000" stroke="#46564c" stroke-width="9" stroke-linecap="round"/>
<path d="M735,820 L800,785" stroke="#46564c" stroke-width="9" stroke-linecap="round"/>
<path d="M690,520 L740,540" stroke="#46564c" stroke-width="9" stroke-linecap="round"/>
<path d="M1085,660 L935,425" stroke="#a6dfc9" stroke-width="16" stroke-linecap="round"/>
<path d="M1085,660 L925,728" stroke="#8fd4b0" stroke-width="18" stroke-linecap="round"/>
<path d="M1085,660 L1305,815" stroke="#7dbfa0" stroke-width="11" stroke-linecap="round"/>
<circle cx="1085" cy="660" r="22" fill="#8fd4a0"/>
</g>
<g transform="translate(40,2550) scale(0.18245)">
<path d="M190,420 L192,330 Q200,290 260,280 L700,110 Q800,95 900,120 L1440,240 Q1482,260 1476,320 L1470,430 Z" fill="#6fae9e"/>
<path d="M255,420 L262,270 Q270,240 310,232 L790,140 Q830,135 870,150 L1420,378 L1405,430 Z" fill="#92d391"/>
<ellipse cx="800" cy="232" rx="75" ry="50" fill="#6fae9e"/>
<text transform="translate(355,318) rotate(-14)" text-anchor="middle" font-family="Liberation Sans, sans-serif" font-style="italic" font-size="86" fill="#c6efbd">100</text>
<path d="M140,375 Q113,380 115,412 L120,1090 Q126,1126 162,1116 L840,900 L1570,1086 Q1606,1092 1605,1050 L1585,395 Q1580,366 1550,364 L815,255 Z" fill="#bd8e50"/>
<polygon points="215,500 720,340 728,405 222,578" fill="#fff"/>
<path d="M170,440 L800,272 M200,690 Q500,600 752,510 M200,795 Q500,720 750,610 M785,770 Q792,860 700,890 L250,1030 Q200,1040 190,985" stroke="#6b4a22" stroke-width="5" fill="none" stroke-linecap="round"/>
<path d="M815,290 L850,880" stroke="#e3bd86" stroke-width="8" fill="none"/>
<path d="M885,330 Q868,600 900,800 Q950,882 1100,920 L1500,1022 M885,330 Q1000,560 1180,576 Q1380,560 1482,480 L890,305 M1440,540 Q1482,800 1482,1000" stroke="#6b4a22" stroke-width="5" fill="none" stroke-linecap="round"/>
<circle cx="1150" cy="485" r="34" stroke="#6b4a22" stroke-width="5" fill="none" stroke-linecap="round"/>
<path d="M150,420 L158,1080 M1560,400 L1578,1050" stroke="#8a6530" stroke-width="4" stroke-dasharray="14 10" fill="none"/>
</g>
<text transform="translate(410.5,2642) scale(1.06,1)" font-family="DejaVu Sans, Liberation Sans, sans-serif" font-size="92" font-weight="700" fill="#f9d72d" textLength="227.36" lengthAdjust="spacing" stroke="#f9d72d" stroke-width="0.9" stroke-linejoin="round" >70%</text>
<text transform="translate(370,2716) scale(1.13,1)" font-family="Liberation Sans, sans-serif" font-size="33" font-weight="400" fill="#fff" textLength="324.78" lengthAdjust="spacing" stroke="#fff" stroke-width="1.25" stroke-linejoin="round" >OF STUDENTS ARE</text>
<text transform="translate(370,2766) scale(1.13,1)" font-family="Liberation Sans, sans-serif" font-size="33" font-weight="400" fill="#fff" textLength="335.40" lengthAdjust="spacing" stroke="#fff" stroke-width="1.25" stroke-linejoin="round" >WILLING TO SPEND</text>
<text transform="translate(371,2814.8) scale(1.13,1)" font-family="Liberation Sans, sans-serif" font-size="33" font-weight="400" fill="#fff" textLength="126.55" lengthAdjust="spacing" stroke="#fff" stroke-width="1.25" stroke-linejoin="round" >WITHIN</text><text transform="translate(531.6,2814.8) scale(1.13,1)" font-family="Liberation Sans, sans-serif" font-size="33" font-weight="400" fill="#f9d72d" textLength="144.25" lengthAdjust="spacing" stroke="#f9d72d" stroke-width="1.25" stroke-linejoin="round" >RM2000</text>
</svg>

<div style="position:absolute;left:1131px;top:104px;width:1435px;height:118.5px;background:#e6b8b7"></div>
<div style="position:absolute;left:1161px;top:134.00px;width:1399px;height:64.00px;line-height:64.00px;font-size:53.333px;white-space:nowrap;font-weight:700;">Project Title: Travelling Preferences among UTM Students</div>
<div style="position:absolute;left:1131px;top:293px;width:755px;height:96px;background:#e6b8b7"></div>
<div style="position:absolute;left:1156.5px;top:317.50px;width:843.5px;height:51.20px;line-height:51.20px;font-size:42.667px;white-space:nowrap;font-weight:700;">INTRODUCTION</div>
<div style="position:absolute;left:1276.5px;top:429.30px;width:1237.5px;height:51.20px;line-height:51.20px;font-size:42.667px;white-space:nowrap;text-align:justify;text-align-last:justify;white-space:normal;">Travelling or vacationing has become very common in this modern</div>
<div style="position:absolute;left:1158px;top:480.69px;width:1356px;height:51.20px;line-height:51.20px;font-size:42.667px;white-space:nowrap;text-align:justify;text-align-last:justify;white-space:normal;">world and the frequency is rising every year. Apparently, it can affect our</div>
<div style="position:absolute;left:1158px;top:532.08px;width:1356px;height:51.20px;line-height:51.20px;font-size:42.667px;white-space:nowrap;text-align:justify;text-align-last:justify;white-space:normal;">emotional well-being and life- satisfaction. Hectic lives have pushed people to</div>
<div style="position:absolute;left:1158px;top:583.47px;width:1356px;height:51.20px;line-height:51.20px;font-size:42.667px;white-space:nowrap;text-align:justify;text-align-last:justify;white-space:normal;">work harder that leisure time has become extremely precious. For this, most</div>
<div style="position:absolute;left:1158px;top:634.86px;width:1356px;height:51.20px;line-height:51.20px;font-size:42.667px;white-space:nowrap;text-align:justify;text-align-last:justify;white-space:normal;">people nowadays choose travelling as a good way to de-stress and to achieve</div>
<div style="position:absolute;left:1158px;top:686.25px;width:1356px;height:51.20px;line-height:51.20px;font-size:42.667px;white-space:nowrap;text-align:justify;text-align-last:justify;white-space:normal;">life-satisfaction. One’s travelling experiences will develop his or her travel</div>
<div style="position:absolute;left:1158px;top:737.64px;width:1356px;height:51.20px;line-height:51.20px;font-size:42.667px;white-space:nowrap;text-align:justify;text-align-last:justify;white-space:normal;">preferences undoubtedly. Hence, a survey was conducted among UTM</div>
<div style="position:absolute;left:1158px;top:789.03px;width:1356px;height:51.20px;line-height:51.20px;font-size:42.667px;white-space:nowrap;text-align:justify;text-align-last:justify;white-space:normal;">students using Google Forms to find out their travel preferences. Data was</div>
<div style="position:absolute;left:1158px;top:840.42px;width:1356px;height:51.20px;line-height:51.20px;font-size:42.667px;white-space:nowrap;text-align:justify;text-align-last:justify;white-space:normal;">collected from both local and international students, which had provided an</div>
<div style="position:absolute;left:1158px;top:891.81px;width:1356px;height:51.20px;line-height:51.20px;font-size:42.667px;white-space:nowrap;">interesting information.</div>
<div style="position:absolute;left:1133px;top:1026.5px;width:756px;height:96px;background:#e6b8b7"></div>
<div style="position:absolute;left:1160px;top:1049.50px;width:840px;height:51.20px;line-height:51.20px;font-size:42.667px;white-space:nowrap;font-weight:700;white-space:pre;">PROJECT  INFORMATION</div>
<div style="position:absolute;left:1276.5px;top:1167.50px;width:1233.5px;height:51.20px;line-height:51.20px;font-size:42.667px;white-space:nowrap;text-align:justify;text-align-last:justify;white-space:normal;">Four different types of questions were included in the questionnaire –</div>
<div style="position:absolute;left:1157.5px;top:1218.96px;width:1352.5px;height:51.20px;line-height:51.20px;font-size:42.667px;white-space:nowrap;text-align:justify;text-align-last:justify;white-space:normal;">nominal, ordinal, interval, and ratio. It took us about one week to get 100</div>
<div style="position:absolute;left:1157.5px;top:1270.42px;width:1352.5px;height:51.20px;line-height:51.20px;font-size:42.667px;white-space:nowrap;text-align:justify;text-align-last:justify;white-space:normal;">respondents from UTM and also another two weeks to analyse the collected</div>
<div style="position:absolute;left:1157.5px;top:1321.88px;width:1352.5px;height:51.20px;line-height:51.20px;font-size:42.667px;white-space:nowrap;text-align:justify;text-align-last:justify;white-space:normal;">data. The vast majority of the respondents were local students (73%) and the</div>
<div style="position:absolute;left:1157.5px;top:1373.34px;width:1352.5px;height:51.20px;line-height:51.20px;font-size:42.667px;white-space:nowrap;text-align:justify;text-align-last:justify;white-space:normal;">rest (27%) come from 9 different countries, which helped to investigate the</div>
<div style="position:absolute;left:1157.5px;top:1424.80px;width:1352.5px;height:51.20px;line-height:51.20px;font-size:42.667px;white-space:nowrap;text-align:justify;text-align-last:justify;white-space:normal;">relationship between nationality and preferred destination to visit. There are</div>
<div style="position:absolute;left:1157.5px;top:1476.26px;width:1352.5px;height:51.20px;line-height:51.20px;font-size:42.667px;white-space:nowrap;text-align:justify;text-align-last:justify;white-space:normal;">many nominal-type questions, where respondents were given the options, to</div>
<div style="position:absolute;left:1157.5px;top:1527.72px;width:1352.5px;height:51.20px;line-height:51.20px;font-size:42.667px;white-space:nowrap;text-align:justify;text-align-last:justify;white-space:normal;">find out more travel preferences about the destinations, source of information</div>
<div style="position:absolute;left:1157.5px;top:1579.18px;width:1352.5px;height:51.20px;line-height:51.20px;font-size:42.667px;white-space:nowrap;text-align:justify;text-align-last:justify;white-space:normal;">(social media, books, etc.), and others. Satisfaction of a travelling style,</div>
<div style="position:absolute;left:1157.5px;top:1630.64px;width:1352.5px;height:51.20px;line-height:51.20px;font-size:42.667px;white-space:nowrap;text-align:justify;text-align-last:justify;white-space:normal;">backpacking for instance, was measured using 1-5 point scales (ordinal), with</div>
<div style="position:absolute;left:1157.5px;top:1682.10px;width:1352.5px;height:51.20px;line-height:51.20px;font-size:42.667px;white-space:nowrap;text-align:justify;text-align-last:justify;white-space:normal;">responses ranging from “Not at all” to “Much satisfied”. To discover more,</div>
<div style="position:absolute;left:1157.5px;top:1733.56px;width:1352.5px;height:51.20px;line-height:51.20px;font-size:42.667px;white-space:nowrap;text-align:justify;text-align-last:justify;white-space:normal;">preferred temperature, budget, frequency of travelling and so on were</div>
<div style="position:absolute;left:1157.5px;top:1785.02px;width:1352.5px;height:51.20px;line-height:51.20px;font-size:42.667px;white-space:nowrap;">measured in numbers (ratio/interval) to provide more detailed information.</div>
<div style="position:absolute;left:1157.5px;top:1938.50px;width:842.5px;height:51.20px;line-height:51.20px;font-size:42.667px;white-space:nowrap;font-weight:700;"><span style="text-decoration:underline;text-decoration-thickness:3px;text-underline-offset:5px">Challenges:</span></div>
<div style="position:absolute;left:1157.5px;top:1990.00px;width:72.5px;height:51.20px;line-height:51.20px;font-size:42.667px;white-space:nowrap;">1.</div>
<div style="position:absolute;left:1221.5px;top:1990.00px;width:1288.5px;height:51.20px;line-height:51.20px;font-size:42.667px;white-space:nowrap;">Cleaning the corrupt or inaccurate data is time-consuming.</div>
<div style="position:absolute;left:1157.5px;top:2041.40px;width:72.5px;height:51.20px;line-height:51.20px;font-size:42.667px;white-space:nowrap;">2.</div>
<div style="position:absolute;left:1221.5px;top:2041.40px;width:1288.5px;height:51.20px;line-height:51.20px;font-size:42.667px;white-space:nowrap;">Lacking of analytical <span style="margin-left:4px">skills</span></div>
<div style="position:absolute;left:1157.5px;top:2092.70px;width:72.5px;height:51.20px;line-height:51.20px;font-size:42.667px;white-space:nowrap;">3.</div>
<div style="position:absolute;left:1221.5px;top:2092.70px;width:1288.5px;height:51.20px;line-height:51.20px;font-size:42.667px;white-space:nowrap;text-align:justify;text-align-last:justify;white-space:normal;">To be impactful, it is difficult to decide the type of graph to present the</div>
<div style="position:absolute;left:1221.5px;top:2144.00px;width:1288.5px;height:51.20px;line-height:51.20px;font-size:42.667px;white-space:nowrap;">data visually.</div>
<div style="position:absolute;left:1133px;top:2276px;width:756px;height:96.5px;background:#e6b8b7"></div>
<div style="position:absolute;left:1159.5px;top:2299.60px;width:840.5px;height:51.20px;line-height:51.20px;font-size:42.667px;white-space:nowrap;font-weight:700;">CONCLUSION</div>
<div style="position:absolute;left:1278.0px;top:2410.20px;width:1232.0px;height:51.20px;line-height:51.20px;font-size:42.667px;white-space:nowrap;text-align:justify;text-align-last:justify;white-space:normal;">Travelling preferences are very subjective. We had a broad range of</div>
<div style="position:absolute;left:1158.5px;top:2461.66px;width:1351.5px;height:51.20px;line-height:51.20px;font-size:42.667px;white-space:nowrap;text-align:justify;text-align-last:justify;white-space:normal;">data for some questions from the survey. Therefore, it is vital to present these</div>
<div style="position:absolute;left:1158.5px;top:2513.12px;width:1351.5px;height:51.20px;line-height:51.20px;font-size:42.667px;white-space:nowrap;text-align:justify;text-align-last:justify;white-space:normal;">numerous and complicated data in a simpler form The preferred destination to</div>
<div style="position:absolute;left:1158.5px;top:2564.58px;width:1351.5px;height:51.20px;line-height:51.20px;font-size:42.667px;white-space:nowrap;text-align:justify;text-align-last:justify;white-space:normal;">visit does not have a significant association with the nationality of a</div>
<div style="position:absolute;left:1158.5px;top:2616.04px;width:1351.5px;height:51.20px;line-height:51.20px;font-size:42.667px;white-space:nowrap;text-align:justify;text-align-last:justify;white-space:normal;">respondent. However, this analysis demonstrated that Asia is the most-</div>
<div style="position:absolute;left:1158.5px;top:2667.50px;width:1351.5px;height:51.20px;line-height:51.20px;font-size:42.667px;white-space:nowrap;text-align:justify;text-align-last:justify;white-space:normal;">preferred destination. The analysis helps in determining the preferences of the</div>
<div style="position:absolute;left:1158.5px;top:2718.96px;width:1351.5px;height:51.20px;line-height:51.20px;font-size:42.667px;white-space:nowrap;text-align:justify;text-align-last:justify;white-space:normal;">majority successfully. Whereas, the graphs created described the data</div>
<div style="position:absolute;left:1158.5px;top:2770.42px;width:1351.5px;height:51.20px;line-height:51.20px;font-size:42.667px;white-space:nowrap;text-align:justify;text-align-last:justify;white-space:normal;">adequately and effectively, giving clear information about different aspects of</div>
<div style="position:absolute;left:1158.5px;top:2821.88px;width:1351.5px;height:51.20px;line-height:51.20px;font-size:42.667px;white-space:nowrap;">preferences in this project.</div>
<div style="position:absolute;left:0px;top:2931px;width:2566px;height:87.5px;background:#e6b8b7"></div>
</body></html>
